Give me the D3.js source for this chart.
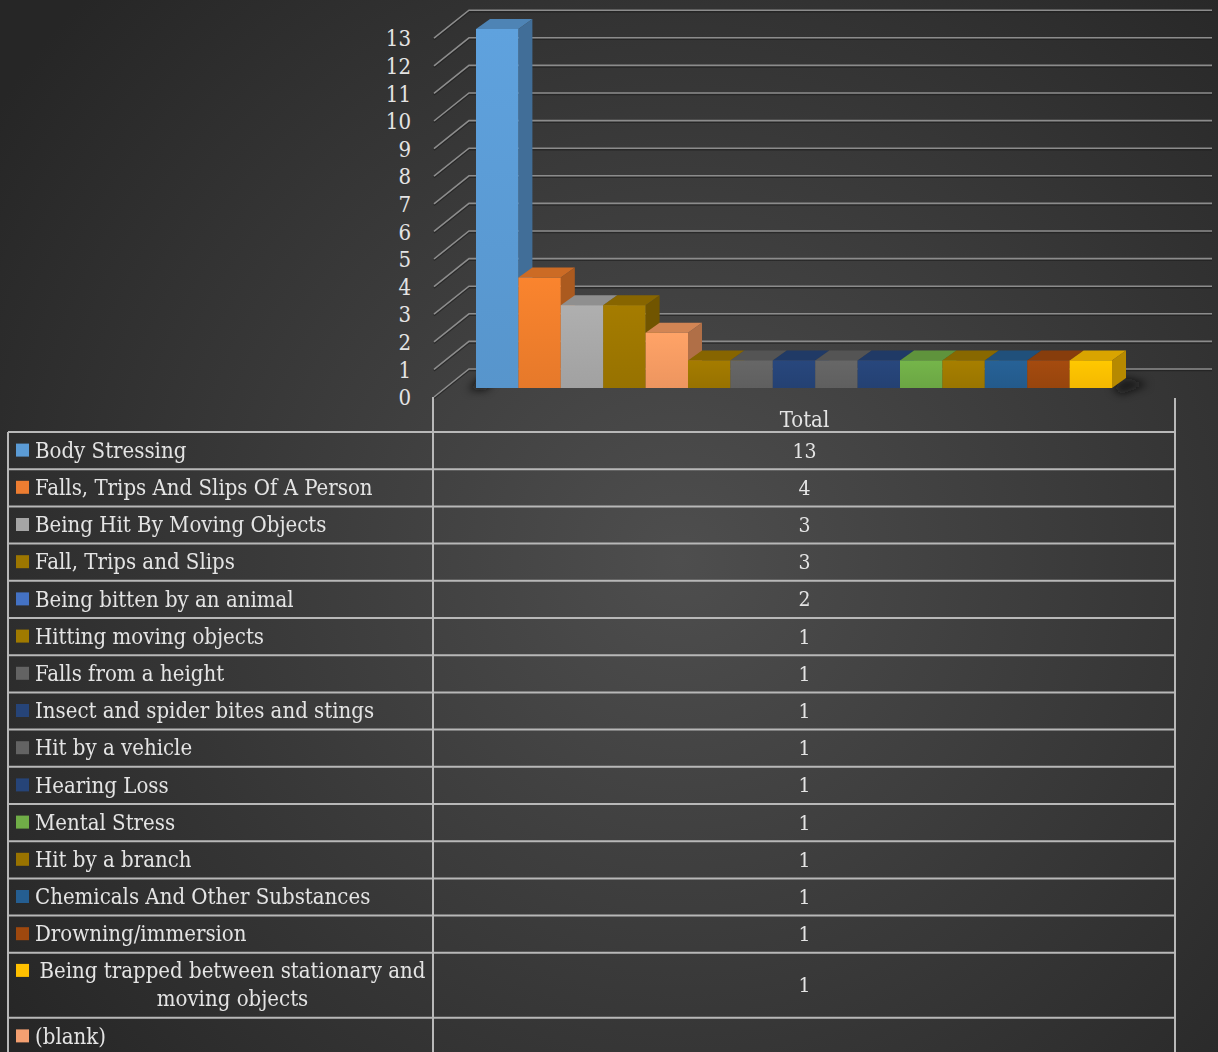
<!DOCTYPE html>
<html><head><meta charset="utf-8">
<script src="https://cdn.jsdelivr.net/npm/d3@7"></script>
<style>html,body{margin:0;padding:0;background:#333;}svg{display:block;} text{font-stretch:condensed;}</style>
</head><body>
<script>
const categories = ["Body Stressing","Falls, Trips And Slips Of A Person","Being Hit By Moving Objects","Fall, Trips and Slips","Being bitten by an animal","Hitting moving objects","Falls from a height","Insect and spider bites and stings","Hit by a vehicle","Hearing Loss","Mental Stress","Hit by a branch","Chemicals And Other Substances","Drowning/immersion","Being trapped between stationary and moving objects","(blank)"];
const values = [13,4,3,3,2,1,1,1,1,1,1,1,1,1,1,null];
const yTicks = [0,1,2,3,4,5,6,7,8,9,10,11,12,13];
const seriesName = "Total";
const legendColors = ["#5B9BD5","#ED7D31","#A5A5A5","#9C7600","#4472C4","#A07A00","#636363","#264478","#636363","#264478","#70AD47","#997300","#255E91","#9E480E","#FFC000","#F4A071"];
const barColors = ["#5B9BD5","#F07E2C","#A8A8A8","#9E7700","#F79C63","#9E7700","#636363","#264478","#636363","#264478","#70AD47","#A07A00","#255E91","#9E480E","#FFC000"];

const W = 1218, H = 1052;
const FONT = "'DejaVu Serif Condensed', 'DejaVu Serif', serif";
const FS = 22;
const TXT = "#e4e4e4";
const svg = d3.select("body").append("svg").attr("width", W).attr("height", H);
const defs = svg.append("defs");
const bg = defs.append("radialGradient").attr("id","bg").attr("gradientUnits","userSpaceOnUse")
  .attr("cx",680).attr("cy",560).attr("r",820);
bg.append("stop").attr("offset","0").attr("stop-color","#4e4e4e");
bg.append("stop").attr("offset","1").attr("stop-color","#262626");
svg.append("rect").attr("width",W).attr("height",H).attr("fill","url(#bg)");
const blur = defs.append("filter").attr("id","blur").attr("x","-50%").attr("y","-50%").attr("width","200%").attr("height","200%");
blur.append("feGaussianBlur").attr("stdDeviation",4);

// scales
const yAxis = d3.scaleLinear().domain([0,13]).range([397,38.2]);
const depth = {dx:35, dy:-28};
const barVals = values.filter(v => v !== null);
const xBand = d3.scaleBand().domain(d3.range(barVals.length)).range([476,1112]).padding(0);
const yBar = d3.scaleLinear().domain([0,13]).range([388,29]);
const bd = {dx:14, dy:-10};
const gridRight = 1212;

// gridlines (front diagonal + back wall)
const grid = svg.append("g");
yTicks.forEach(t => {
  const y = yAxis(t);
  const x0 = 434, x1 = x0 + depth.dx, yb = y + depth.dy;
  grid.append("path").attr("d",`M${x0},${y}L${x1},${yb}L${gridRight},${yb}`)
    .attr("fill","none").attr("stroke","#1c1c1c").attr("stroke-width",1.6).attr("transform","translate(0,1.5)").attr("opacity",0.6);
  grid.append("path").attr("d",`M${x0},${y}L${x1},${yb}L${gridRight},${yb}`)
    .attr("fill","none").attr("stroke","#8c8c8c").attr("stroke-width",1.6);
});

// y axis labels via d3 axis
const axG = svg.append("g").attr("transform","translate(434,0)")
  .call(d3.axisLeft(yAxis).tickValues(yTicks).tickSize(0).tickPadding(23).tickFormat(d3.format("d")));
axG.select(".domain").remove();
axG.selectAll("text").attr("font-family",FONT).attr("font-size",FS).attr("fill",TXT).attr("dy","0.35em");

// shadows of bars
const shadow = svg.append("g").attr("filter","url(#blur)");
shadow.append("path").attr("d",`M${xBand(0)-8},${yBar(0)+2}L${xBand(0)+6},${yBar(0)-12}L${xBand(0)+20},${yBar(0)-12}L${xBand(0)+10},${yBar(0)+2}Z`).attr("fill","#111").attr("opacity",0.8);
const lastX = xBand(barVals.length-1)+xBand.bandwidth();
shadow.append("path").attr("d",`M${lastX},${yBar(0)}L${lastX+bd.dx},${yBar(0)+bd.dy}L${lastX+bd.dx+22},${yBar(0)+bd.dy+6}L${lastX+10},${yBar(0)+6}Z`).attr("fill","#111").attr("opacity",0.8);

// bars
const bars = svg.append("g");
barVals.forEach((v,i) => {
  const c = d3.color(barColors[i]);
  const gid = "g"+i;
  const lg = defs.append("linearGradient").attr("id",gid).attr("x1",0).attr("y1",0).attr("x2",0).attr("y2",1);
  lg.append("stop").attr("offset",0).attr("stop-color",d3.color(c).brighter(0.12));
  lg.append("stop").attr("offset",1).attr("stop-color",d3.color(c).darker(0.12));
  const x0 = xBand(i), x1 = x0 + xBand.bandwidth();
  const yt = yBar(v), yb = yBar(0);
  const g = bars.append("g");
  g.append("path").attr("d",`M${x1},${yt}L${x1+bd.dx},${yt+bd.dy}L${x1+bd.dx},${yb+bd.dy}L${x1},${yb}Z`)
    .attr("fill",d3.color(c).darker(0.95));
  g.append("path").attr("d",`M${x0},${yt}L${x1},${yt}L${x1+bd.dx},${yt+bd.dy}L${x0+bd.dx},${yt+bd.dy}Z`)
    .attr("fill",d3.color(c).darker(0.45));
  g.append("rect").attr("x",x0).attr("y",yt).attr("width",xBand.bandwidth()).attr("height",yb-yt)
    .attr("fill",`url(#${gid})`);
});

// table
const tbl = svg.append("g");
const tx0 = 8, tx1 = 433, tx2 = 1175, tTop = 432;
const rowH = 37.2, rowH2 = 65;
const valX = (tx1 + tx2) / 2 + 0.5;
tbl.append("text").attr("x",valX).attr("y",419).attr("text-anchor","middle").attr("dy","0.35em")
  .attr("font-family",FONT).attr("font-size",FS).attr("fill",TXT).text(seriesName);

const textL = 35, textR = 430;
const meas = svg.append("text").attr("font-family",FONT).attr("font-size",FS).attr("visibility","hidden");
function wrap(str){
  meas.text(str);
  if (meas.node().getComputedTextLength() <= textR - textL) return [str];
  const words = str.split(" "); const lines = []; let cur = "";
  words.forEach(w => {
    const t = cur ? cur + " " + w : w;
    meas.text(t);
    if (meas.node().getComputedTextLength() > textR - textL && cur) { lines.push(cur); cur = w; } else cur = t;
  });
  if (cur) lines.push(cur);
  return lines;
}
let y = tTop;
const bounds = [y];
categories.forEach((cat,i) => {
  const lines = wrap(cat);
  const h = lines.length > 1 ? rowH2 : rowH;
  const cy = y + h/2;
  tbl.append("rect").attr("x",16).attr("y",(lines.length>1? y+rowH/2 : cy)-7 + (lines.length>1? -0.5:0)).attr("width",13).attr("height",13)
    .attr("fill",legendColors[i]);
  if (lines.length === 1) {
    tbl.append("text").attr("x",textL).attr("y",cy).attr("dy","0.33em").attr("font-family",FONT).attr("font-size",FS)
      .attr("fill",TXT).text(cat);
  } else {
    const mid = (textL + textR) / 2;
    lines.forEach((ln,k) => {
      tbl.append("text").attr("x",mid).attr("y",y + rowH/2 - 1 + k*28).attr("dy","0.33em").attr("text-anchor","middle")
        .attr("font-family",FONT).attr("font-size",FS).attr("fill",TXT).text(ln);
    });
  }
  if (values[i] !== null) {
    tbl.append("text").attr("x",valX).attr("y",cy).attr("dy","0.33em").attr("text-anchor","middle")
      .attr("font-family",FONT).attr("font-size",FS-1).attr("fill",TXT).text(values[i]);
  }
  y += h;
  bounds.push(y);
});
meas.remove();
const lineCol = "#b8b8b8";
bounds.forEach(b => {
  tbl.append("line").attr("x1",tx0).attr("x2",tx2).attr("y1",b).attr("y2",b).attr("stroke",lineCol).attr("stroke-width",2);
});
tbl.append("line").attr("x1",tx0).attr("x2",tx0).attr("y1",tTop).attr("y2",H).attr("stroke",lineCol).attr("stroke-width",2);
tbl.append("line").attr("x1",tx1).attr("x2",tx1).attr("y1",yAxis(0)).attr("y2",H).attr("stroke",lineCol).attr("stroke-width",2);
tbl.append("line").attr("x1",tx2).attr("x2",tx2).attr("y1",398).attr("y2",H).attr("stroke",lineCol).attr("stroke-width",2);
</script>
</body></html>
